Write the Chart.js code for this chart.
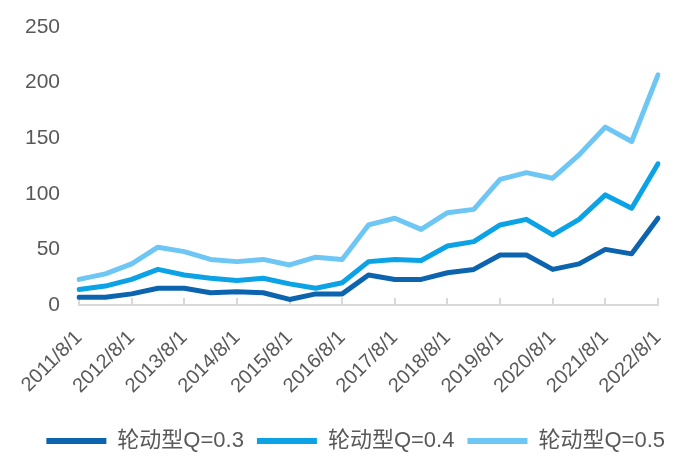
<!DOCTYPE html>
<html>
<head>
<meta charset="utf-8">
<script src="https://cdn.jsdelivr.net/npm/chart.js@4/dist/chart.umd.min.js"></script>
<style>
  html, body { margin:0; padding:0; background:#fff; }
  #wrap { width:678px; height:462px; }
</style>
</head>
<body>
<div id="wrap"><canvas id="c" width="678" height="462"></canvas></div>
<script>
'use strict';

// half-yearly points, year labels shown on the /8/1 entries only
const dates = [
  '2011/8/1','2012/2/1','2012/8/1','2013/2/1','2013/8/1','2014/2/1','2014/8/1','2015/2/1',
  '2015/8/1','2016/2/1','2016/8/1','2017/2/1','2017/8/1','2018/2/1','2018/8/1','2019/2/1',
  '2019/8/1','2020/2/1','2020/8/1','2021/2/1','2021/8/1','2022/2/1','2022/8/1'
];
const seriesNames = ['轮动型Q=0.3', '轮动型Q=0.4', '轮动型Q=0.5'];
const q03 = [7, 7, 10, 15, 15, 11, 12, 11, 5, 10, 10, 27, 23, 23, 29, 32, 45, 45, 32, 37, 50, 46, 78];
const q04 = [14, 17, 23, 32, 27, 24, 22, 24, 19, 15, 20, 39, 41, 40, 53, 57, 72, 77, 63, 77, 99, 87, 127];
const q05 = [23, 28, 37, 52, 48, 41, 39, 41, 36, 43, 41, 72, 78, 68, 83, 86, 113, 119, 114, 135, 160, 147, 207];
const yTicks = [0, 50, 100, 150, 200, 250];

const COLORS = ['#0d64ae', '#0ba3e6', '#6dc6f4'];
const FONT = '"Liberation Sans", Arial, "Noto Sans CJK SC", sans-serif';
const TXT = '#595959';
const AXIS = '#d9d9d9';

const mkSet = (label, data, color) => ({
  label, data,
  borderColor: color, backgroundColor: color,
  borderWidth: 5, pointRadius: 0, tension: 0,
  borderCapStyle: 'round', borderJoinStyle: 'round', fill: false
});

// small tick marks pointing up from the x axis, at the yearly labels
const innerTicks = {
  id: 'innerTicks',
  beforeDatasetsDraw(chart) {
    const { ctx, scales: { x } } = chart;
    const y0 = x.top;
    ctx.save();
    ctx.strokeStyle = AXIS;
    ctx.lineWidth = 2;
    x.ticks.forEach((t, i) => {
      if (i % 2) return;
      const px = Math.round(x.getPixelForTick(i));
      ctx.beginPath();
      ctx.moveTo(px, y0);
      ctx.lineTo(px, y0 - 7);
      ctx.stroke();
    });
    ctx.restore();
  }
};

new Chart(document.getElementById('c'), {
  type: 'line',
  data: {
    labels: dates,
    datasets: [
      mkSet(seriesNames[0], q03, COLORS[0]),
      mkSet(seriesNames[1], q04, COLORS[1]),
      mkSet(seriesNames[2], q05, COLORS[2])
    ]
  },
  plugins: [innerTicks],
  options: {
    responsive: false,
    animation: false,
    layout: { padding: { left: 0, right: 0, top: 16, bottom: 0 } },
    plugins: {
      tooltip: { enabled: false },
      legend: {
        position: 'bottom',
        align: 'end',
        labels: {
          color: TXT,
          font: { family: FONT, size: 22 },
          boxWidth: 60, boxHeight: 6,
          padding: 13,
          generateLabels: chart => chart.data.datasets.map((ds, i) => ({
            text: ds.label, fillStyle: ds.borderColor, strokeStyle: ds.borderColor,
            lineWidth: 0, hidden: false, datasetIndex: i, fontColor: TXT
          }))
        }
      }
    },
    scales: {
      x: {
        offset: false,
        afterFit: s => { s.height = 112; s.paddingRight = 20; },
        grid: { drawOnChartArea: false, drawTicks: false },
        border: { display: true, color: AXIS, width: 2 },
        ticks: {
          autoSkip: false, maxRotation: 45, minRotation: 45,
          color: TXT, font: { family: FONT, size: 20 }, padding: 21,
          callback: function (v, i) { return i % 2 === 0 ? this.getLabelForValue(v) : ''; }
        }
      },
      y: {
        min: 0, max: 250,
        afterBuildTicks: axis => { axis.ticks = yTicks.map(v => ({ value: v })); },
        afterFit: s => { s.width = 79; s.paddingTop = 27; },
        grid: { display: false },
        border: { display: false },
        ticks: { color: TXT, font: { family: FONT, size: 21 }, padding: 11 }
      }
    }
  }
});
</script>
</body>
</html>
